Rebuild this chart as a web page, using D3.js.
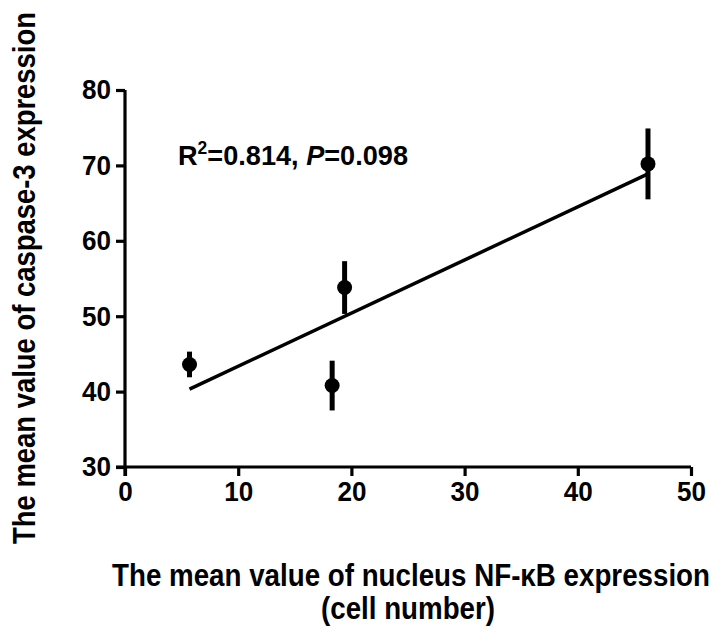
<!DOCTYPE html>
<html>
<head>
<meta charset="utf-8">
<script src="https://cdn.jsdelivr.net/npm/d3@7"></script>
<style>
  html, body { margin: 0; padding: 0; background: #fff; }
  #chart { width: 716px; height: 630px; }
  text { font-family: "Liberation Sans", Arial, sans-serif; font-weight: bold; fill: #000; }
</style>
</head>
<body>
<div id="chart"></div>
<script>
//Datos
const nfkb = [5.7, 18.3, 19.4, 46.2];          // eje X: celulas NF-kB en nucleo
const caspase = [43.6, 40.8, 53.8, 70.2];      // eje Y: caspase-3
const caspaseErr = [1.7, 3.3, 3.5, 4.7];       // barras de error
const xTicks = [0, 10, 20, 30, 40, 50];
const yTicks = [30, 40, 50, 60, 70, 80];
const statR2 = '0.814', statP = '0.098';

//Margenes
let margin = {top: 90, right: 25, bottom: 163, left: 125};

let root = d3.select('#chart')
    .append('svg')
        .attr('width', 716)
        .attr('height', 630);

let svg = root.append('g')
        .attr('transform', 'translate(' + margin.left + ',' + margin.top + ')');

let x = d3.scaleLinear().domain([0, 50]).range([0, 566]);
let y = d3.scaleLinear().domain([30, 80]).range([377, 0]);

//Ejes
let xAxis = svg.append('g')
    .attr('transform', 'translate(0,' + y(30) + ')')
    .call(d3.axisBottom(x).tickValues(xTicks).tickSize(9).tickPadding(5).tickSizeOuter(0));

let yAxis = svg.append('g')
    .call(d3.axisLeft(y).tickValues(yTicks).tickSize(9).tickPadding(5).tickSizeOuter(0));

[xAxis, yAxis].forEach(function(ax) {
    ax.select('.domain').attr('stroke-width', 3.2);
    ax.selectAll('.tick line').attr('stroke-width', 3.2);
    ax.selectAll('.tick text').style('font-size', '28px')
        .attr('textLength', function(d) { return String(d).length * 14.5; })
        .attr('lengthAdjust', 'spacingAndGlyphs');
});
xAxis.select('.domain').attr('d', 'M' + (-9) + ',0H' + x(50));
yAxis.select('.domain').attr('d', 'M0,' + (y(30) + 9) + 'V' + y(80));

//Recta de regresion (minimos cuadrados sobre los datos)
let mx = d3.mean(nfkb), my = d3.mean(caspase);
let sxy = d3.sum(nfkb, function(d, i) { return (d - mx) * (caspase[i] - my); });
let sxx = d3.sum(nfkb, function(d) { return (d - mx) * (d - mx); });
let slope = sxy / sxx, intercept = my - slope * mx;
let xExt = d3.extent(nfkb);

svg.append('line')
    .attr('x1', x(xExt[0])).attr('y1', y(intercept + slope * xExt[0]))
    .attr('x2', x(xExt[1])).attr('y2', y(intercept + slope * xExt[1]))
    .attr('stroke', '#000')
    .attr('stroke-width', 3.5);

//Barras de error y puntos
let pts = svg.append('g').selectAll('g')
    .data(nfkb.map(function(d, i) { return {x: d, y: caspase[i], e: caspaseErr[i]}; }))
    .enter().append('g');

pts.append('line')
    .attr('x1', function(d) { return x(d.x); })
    .attr('x2', function(d) { return x(d.x); })
    .attr('y1', function(d) { return y(d.y + d.e); })
    .attr('y2', function(d) { return y(d.y - d.e); })
    .attr('stroke', '#000')
    .attr('stroke-width', 5);

pts.append('circle')
    .attr('cx', function(d) { return x(d.x); })
    .attr('cy', function(d) { return y(d.y); })
    .attr('r', 7.5)
    .attr('fill', '#000');

//Texto estadistico
let stat = svg.append('text')
    .attr('x', 53)
    .attr('y', 75)
    .attr('textLength', 230)
    .attr('lengthAdjust', 'spacingAndGlyphs')
    .style('font-size', '28px');
stat.append('tspan').text('R');
stat.append('tspan').text('2').attr('dy', -11).style('font-size', '18px');
stat.append('tspan').text('=' + statR2 + ', ').attr('dy', 11);
stat.append('tspan').text('P').style('font-style', 'italic');
stat.append('tspan').text('=' + statP);

//Titulos de ejes
root.append('text')
    .attr('x', 411)
    .attr('y', 586)
    .attr('text-anchor', 'middle')
    .attr('textLength', 598)
    .attr('lengthAdjust', 'spacingAndGlyphs')
    .style('font-size', '31px')
    .text('The mean value of nucleus NF-κB expression');
root.append('text')
    .attr('x', 408)
    .attr('y', 619)
    .attr('text-anchor', 'middle')
    .attr('textLength', 174)
    .attr('lengthAdjust', 'spacingAndGlyphs')
    .style('font-size', '31px')
    .text('(cell number)');
root.append('text')
    .attr('transform', 'translate(35,278) rotate(-90)')
    .attr('text-anchor', 'middle')
    .attr('textLength', 532)
    .attr('lengthAdjust', 'spacingAndGlyphs')
    .style('font-size', '31px')
    .text('The mean value of caspase-3 expression');
</script>
</body>
</html>
